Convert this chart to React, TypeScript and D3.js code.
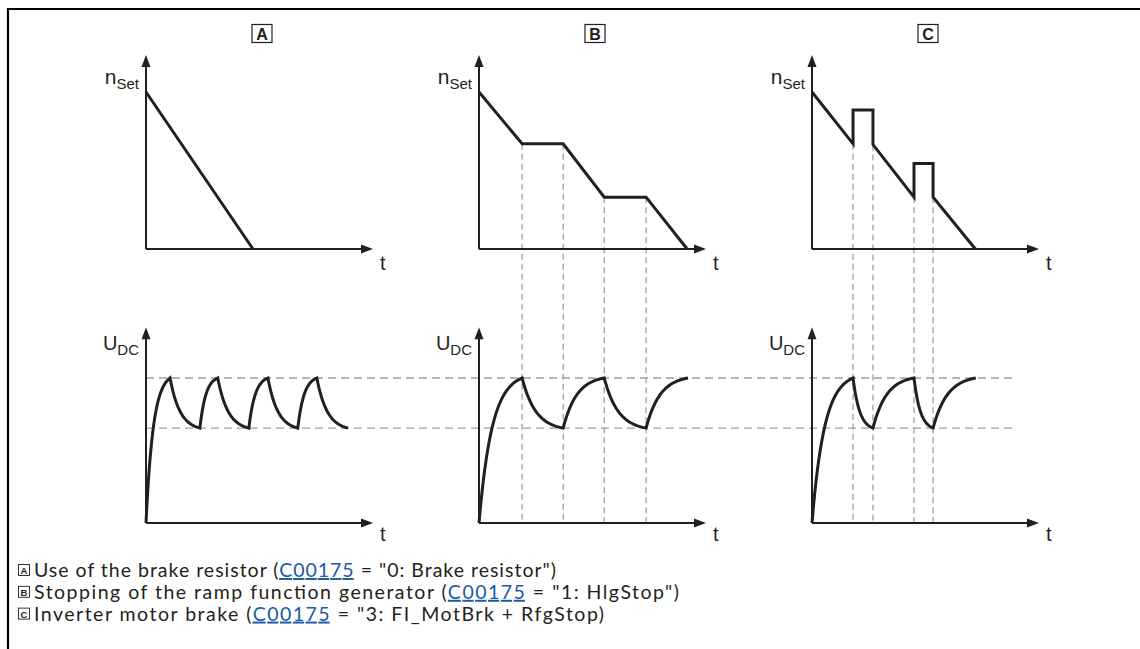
import React from "react";
import * as d3 from "d3";

// ---------- data ----------
const panelLabels = ["A", "B", "C"];

// set speed n_Set over time (t in ramp units, n normalised)
const speedA: [number, number][] = [[0, 1], [2.58, 0]];
const speedB: [number, number][] = [[0, 1], [1.04, 0.67], [2.03, 0.67], [3.02, 0.33], [4.03, 0.33], [5.02, 0]];
const speedC: [number, number][] = [
  [0, 1], [0.99, 0.67], [0.99, 0.885], [1.47, 0.885], [1.47, 0.665],
  [2.46, 0.33], [2.46, 0.545], [2.92, 0.545], [2.92, 0.33], [3.94, 0],
];

// DC bus voltage knots (charge / discharge extremes)
const udcA: [number, number][] = [[0, 0], [0.58, 1], [1.3, 0.655], [1.73, 1], [2.48, 0.655], [2.94, 1], [3.66, 0.655], [4.12, 1], [4.87, 0.655]];
const udcB: [number, number][] = [[0, 0], [1.04, 1], [2.03, 0.655], [3.02, 1], [4.03, 0.655], [5.04, 1]];
const udcC: [number, number][] = [[0, 0], [0.99, 1], [1.47, 0.655], [2.46, 1], [2.92, 0.655], [3.95, 1]];

// vertical guide lines (time, speed level where they start)
const guidesA: [number, number][] = [];
const guidesB: [number, number][] = [[1.04, 0.67], [2.03, 0.67], [3.02, 0.33], [4.03, 0.33]];
const guidesC: [number, number][] = [[0.99, 0.67], [1.47, 0.665], [2.46, 0.33], [2.92, 0.33]];

// horizontal threshold levels of U_DC
const udcLevels = [1, 0.655];
const udcLevelEndT = 4.9;

const legendLetters = ["A", "B", "C"];
const legendPre = [
  "Use of the brake resistor (",
  "Stopping of the ramp function generator (",
  "Inverter motor brake (",
];
const legendLink = "C00175";
const legendPost = [
  " = \"0: Brake resistor\")",
  " = \"1: HlgStop\")",
  " = \"3: FI_MotBrk + RfgStop)",
];

const speeds = [speedA, speedB, speedC];
const udcs = [udcA, udcB, udcC];
const guides = [guidesA, guidesB, guidesC];

// ---------- layout ----------
const W = 1140, H = 649;
const axisX = [146, 479, 812];
const axisLen = 226;
const INK = "#231f20";
const DASH = "#a0a0a0";
const legendWidths = [522, 645, 570];

const topY = d3.scaleLinear().domain([0, 1]).range([249, 92]);
const botY = d3.scaleLinear().domain([0, 1]).range([523, 378]);
const nTop = 1.236;
const uTop = 1.35;

const makeX = (x0: number) => d3.scaleLinear().domain([0, 5.45]).range([x0, x0 + axisLen]);

// exponential charge/discharge shape between two knots
function expSegment(p0: [number, number], p1: [number, number], k: number, n = 30): [number, number][] {
  const out: [number, number][] = [];
  const norm = 1 - Math.exp(-k);
  for (let i = 0; i <= n; i++) {
    const s = i / n;
    const f = (1 - Math.exp(-k * s)) / norm;
    out.push([p0[0] + (p1[0] - p0[0]) * s, p0[1] + (p1[1] - p0[1]) * f]);
  }
  return out;
}

function Arrow({ x, y, dir }: { x: number; y: number; dir: "up" | "right" }) {
  const L = 12, w = 4.5;
  const pts = dir === "up"
    ? [[x, y], [x - w, y + L], [x + w, y + L]]
    : [[x, y], [x - L, y - w], [x - L, y + w]];
  return <polygon points={pts.map((p) => p.join(",")).join(" ")} fill={INK} />;
}

function Panel({ i }: { i: number }) {
  const x0 = axisX[i];
  const x = makeX(x0);
  const lineTop = d3.line<[number, number]>().x((d) => x(d[0])).y((d) => topY(d[1]));
  const lineBot = d3.line<[number, number]>().x((d) => x(d[0])).y((d) => botY(d[1]));
  const knots = udcs[i];
  let pts: [number, number][] = [];
  for (let j = 0; j < knots.length - 1; j++) {
    const seg = expSegment(knots[j], knots[j + 1], j === 0 ? 3.3 : 3.0);
    pts = pts.concat(j === 0 ? seg : seg.slice(1));
  }
  const xEnd = x0 + axisLen + 1;
  const label = panelLabels[i];
  const cx = x0 + 116;
  return (
    <g>
      {/* panel label */}
      <rect x={cx - 10} y={24.5} width={20} height={18} fill="none" stroke={INK} strokeWidth={1.2} />
      <text x={cx} y={39.5} textAnchor="middle" fontFamily="Liberation Sans, Arial, sans-serif" fontWeight="bold" fontSize={16} fill={INK}>{label}</text>

      {/* guides */}
      {guides[i].map((g, k) => (
        <line key={k} x1={x(g[0])} x2={x(g[0])} y1={topY(g[1])} y2={botY(0)} stroke={DASH} strokeWidth={1.3} strokeDasharray="6,4" />
      ))}

      {/* top axes */}
      <line x1={x0} x2={x0} y1={topY(0)} y2={topY(nTop) + 4} stroke={INK} strokeWidth={2} />
      <line x1={x0} x2={xEnd - 4} y1={topY(0)} y2={topY(0)} stroke={INK} strokeWidth={2} />
      <Arrow x={x0} y={topY(nTop)} dir="up" />
      <Arrow x={xEnd} y={topY(0)} dir="right" />
      <text x={x0 - 7} y={84} textAnchor="end" fontFamily="Liberation Sans, Arial, sans-serif" fontSize={21} fill={INK}>
        n<tspan fontSize={15} dy={5}>Set</tspan>
      </text>
      <text x={xEnd + 7} y={270} fontFamily="Liberation Sans, Arial, sans-serif" fontSize={20} fill={INK}>t</text>
      <path d={lineTop(speeds[i]) || ""} fill="none" stroke={INK} strokeWidth={3} strokeLinejoin="miter" />

      {/* bottom axes */}
      <line x1={x0} x2={x0} y1={botY(0)} y2={botY(uTop) + 4} stroke={INK} strokeWidth={2} />
      <line x1={x0} x2={xEnd - 4} y1={botY(0)} y2={botY(0)} stroke={INK} strokeWidth={2} />
      <Arrow x={x0} y={botY(uTop)} dir="up" />
      <Arrow x={xEnd} y={botY(0)} dir="right" />
      <text x={x0 - 7} y={350} textAnchor="end" fontFamily="Liberation Sans, Arial, sans-serif" fontSize={20} fill={INK}>
        U<tspan fontSize={15} dy={5}>DC</tspan>
      </text>
      <text x={xEnd + 7} y={541} fontFamily="Liberation Sans, Arial, sans-serif" fontSize={20} fill={INK}>t</text>
      <path d={lineBot(pts) || ""} fill="none" stroke={INK} strokeWidth={3} strokeLinejoin="miter" />
    </g>
  );
}

export default function App() {
  const xA = makeX(axisX[0]);
  const xC = makeX(axisX[2]);
  return (
    <svg width={W} height={H} viewBox={`0 0 ${W} ${H}`} style={{ position: "absolute", left: 0, top: 0, background: "#fff" }}>
      <rect x={0} y={0} width={W} height={H} fill="#fff" />
      <path d={`M8,${H} V9 H${W}`} fill="none" stroke="#000" strokeWidth={2.2} />

      {/* threshold lines */}
      {udcLevels.map((lv, k) => (
        <line key={k} x1={xA(0)} x2={xC(udcLevelEndT)} y1={botY(lv)} y2={botY(lv)} stroke={DASH} strokeWidth={1.3} strokeDasharray="8,5" />
      ))}

      {panelLabels.map((_, i) => <Panel key={i} i={i} />)}

      {/* legend */}
      {legendLetters.map((L, k) => {
        const y = 577 + k * 21.8;
        return (
          <g key={k}>
            <rect x={18.5} y={y - 12.5} width={11} height={11} fill="none" stroke={INK} strokeWidth={0.9} />
            <text x={24} y={y - 3} textAnchor="middle" fontFamily="Liberation Sans, Arial, sans-serif" fontWeight="bold" fontSize={9.5} fill={INK}>{L}</text>
            <text x={34} y={y} fontFamily="Lato, sans-serif" fontSize={19.5} textLength={legendWidths[k]} lengthAdjust="spacing" fill={INK}>
              {legendPre[k]}
              <tspan fill="#1a5aa6" textDecoration="underline">{legendLink}</tspan>
              {legendPost[k]}
            </text>
          </g>
        );
      })}
    </svg>
  );
}
